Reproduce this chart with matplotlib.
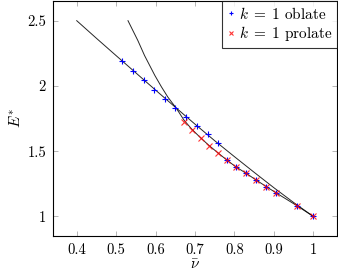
import matplotlib
matplotlib.use("Agg")
import matplotlib.pyplot as plt
from matplotlib.ticker import FuncFormatter

plt.rcParams['font.family'] = 'serif'
plt.rcParams['font.serif'] = ['cmr10']
plt.rcParams['mathtext.fontset'] = 'cm'
plt.rcParams['axes.formatter.use_mathtext'] = True

# oblate markers (k = 1)
obl_x = [0.516, 0.542, 0.570, 0.596, 0.623, 0.650, 0.676, 0.705, 0.733, 0.758,
         0.780, 0.803, 0.829, 0.854, 0.880, 0.905, 0.958, 1.0]
obl_y = [2.188, 2.117, 2.043, 1.972, 1.902, 1.832, 1.763, 1.694, 1.628, 1.560,
         1.432, 1.379, 1.331, 1.280, 1.229, 1.181, 1.082, 1.0]

# prolate markers (k = 1)
pro_x = [0.672, 0.692, 0.714, 0.735, 0.757, 0.780, 0.803, 0.829, 0.854, 0.880,
         0.905, 0.958, 1.0]
pro_y = [1.725, 1.661, 1.598, 1.542, 1.488, 1.432, 1.379, 1.331, 1.280, 1.229,
         1.181, 1.082, 1.0]

# reference curves
curve1_x = [0.4, 0.45, 0.5, 0.55, 0.6, 0.65, 0.7, 0.75, 0.8, 0.85, 0.9, 0.95, 1.0]
curve1_y = [2.5, 2.365, 2.232, 2.100, 1.968, 1.837, 1.707, 1.580, 1.458, 1.338,
            1.220, 1.107, 1.0]
curve2_x = [0.53, 0.555, 0.572, 0.598, 0.615, 0.631, 0.653, 0.672, 0.692, 0.714,
            0.735, 0.757, 0.780, 0.803, 0.829, 0.854, 0.880, 0.905, 0.958, 1.0]
curve2_y = [2.5, 2.348, 2.233, 2.081, 1.992, 1.915, 1.827, 1.738, 1.668, 1.603,
            1.545, 1.490, 1.434, 1.381, 1.332, 1.281, 1.230, 1.182, 1.083, 1.0]

fig = plt.figure(figsize=(3.38, 2.78), dpi=100)
ax = fig.add_axes([0.157, 0.151, 0.84, 0.845])

ax.plot(curve1_x, curve1_y, color='black', lw=0.7, alpha=0.85)
ax.plot(curve2_x, curve2_y, color='black', lw=0.7, alpha=0.85)
ax.plot(obl_x, obl_y, ls='none', marker='+', color='blue', ms=5, mew=0.8,
        label=r'$k\;=\;1$ oblate')
ax.plot(pro_x, pro_y, ls='none', marker='x', color='red', ms=4, mew=0.8,
        label=r'$k\;=\;1$ prolate', alpha=0.8)

ax.set_xlim(0.34, 1.06)
ax.set_ylim(0.85, 2.65)
ax.set_xticks([0.4, 0.5, 0.6, 0.7, 0.8, 0.9, 1.0])
ax.set_yticks([1, 1.5, 2, 2.5])
ax.xaxis.set_major_formatter(FuncFormatter(lambda v, p: f'{v:g}'))
ax.yaxis.set_major_formatter(FuncFormatter(lambda v, p: f'{v:g}'))
ax.tick_params(direction='in', top=True, right=True, length=3.5, width=0.5,
               color='#999999', labelsize=10.5, pad=5)
for s in ax.spines.values():
    s.set_linewidth(0.8)

ax.set_xlabel(r'$\bar{\nu}$', fontsize=11, labelpad=1)
ax.set_ylabel(r'$E^{*}$', fontsize=11, labelpad=3)

leg = ax.legend(loc='upper right', borderaxespad=0, fancybox=False,
                edgecolor='black', fontsize=11, handlelength=0.5,
                handletextpad=0.3, borderpad=0.3, labelspacing=0.15,
                markerscale=0.7)
leg.get_frame().set_linewidth(0.8)

fig.savefig('out.png', dpi=100)
